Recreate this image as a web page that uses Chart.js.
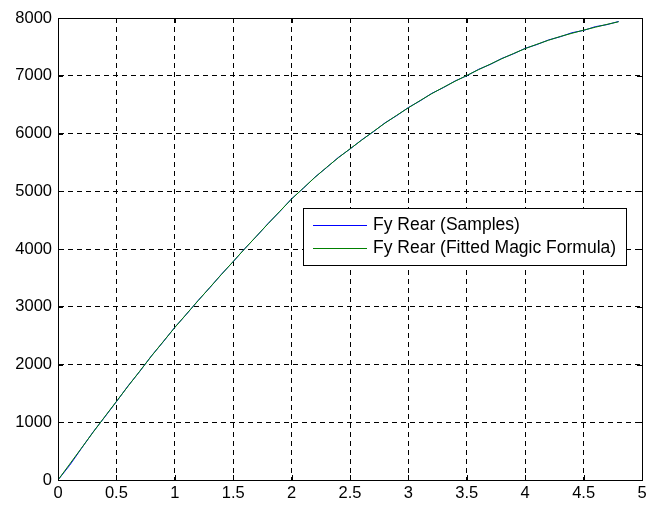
<!DOCTYPE html>
<html lang="en">
<head>
<meta charset="UTF-8">
<title>Fy Rear</title>
<style>
  html, body { margin: 0; padding: 0; background: #fff; }
  #wrap { width: 651px; height: 506px; }
</style>
</head>
<body>
<div id="wrap"><canvas id="fy-chart" width="651" height="506"></canvas></div>
<script src="https://cdn.jsdelivr.net/npm/chart.js"></script>
<script>
// slip values (x) and lateral force (y)
const slip = [0, 0.1, 0.2, 0.3, 0.4, 0.5, 0.6, 0.7, 0.8, 0.9, 1.0, 1.1, 1.2, 1.3, 1.4, 1.5, 1.6, 1.7, 1.8, 1.9, 2.0,
  2.1, 2.2, 2.3, 2.4, 2.5, 2.6, 2.7, 2.8, 2.9, 3.0, 3.1, 3.2, 3.3, 3.4, 3.5, 3.6, 3.7, 3.8, 3.9, 4.0,
  4.1, 4.2, 4.3, 4.4, 4.5, 4.6, 4.7, 4.8];
const fySamples = [0, 255, 545, 830, 1090, 1355, 1630, 1880, 2150, 2390, 2645, 2870, 3110, 3330, 3565, 3780, 4010, 4220, 4445, 4650, 4870,
  5050, 5245, 5410, 5585, 5730, 5890, 6030, 6185, 6310, 6450, 6565, 6695, 6795, 6910, 7000, 7110, 7195, 7300, 7380, 7475,
  7540, 7620, 7675, 7745, 7785, 7850, 7885, 7940];
const fyFitted = [0, 275, 550, 825, 1095, 1360, 1625, 1885, 2145, 2395, 2640, 2875, 3105, 3335, 3560, 3785, 4005, 4225, 4440, 4655, 4865,
  5055, 5240, 5415, 5580, 5735, 5885, 6035, 6180, 6315, 6445, 6570, 6690, 6800, 6905, 7005, 7105, 7200, 7295, 7385, 7470,
  7545, 7615, 7680, 7735, 7790, 7840, 7890, 7935];
const seriesNames = ['Fy Rear (Samples)', 'Fy Rear (Fitted Magic Formula)'];
const seriesColors = ['#0000ff', '#008000'];
const xTicks = [0, 0.5, 1, 1.5, 2, 2.5, 3, 3.5, 4, 4.5, 5];
const yTicks = [0, 1000, 2000, 3000, 4000, 5000, 6000, 7000, 8000];

const FONT = 'Liberation Sans, Arial, sans-serif';

function toPoints(ys) {
  return slip.map((x, i) => ({ x: x, y: ys[i] }));
}

// box, inner tick marks and legend, matlab style
const matlabBox = {
  id: 'matlabBox',
  afterDatasetsDraw(chart) {
    const ctx = chart.ctx;
    const a = chart.chartArea;
    const sx = chart.scales.x, sy = chart.scales.y;
    ctx.save();
    ctx.strokeStyle = '#000';
    ctx.lineWidth = 1;
    ctx.setLineDash([]);
    ctx.beginPath();
    xTicks.forEach(v => {
      const px = Math.round(sx.getPixelForValue(v)) + 0.5;
      ctx.moveTo(px, a.bottom); ctx.lineTo(px, a.bottom - 5);
      ctx.moveTo(px, a.top); ctx.lineTo(px, a.top + 5);
    });
    yTicks.forEach(v => {
      const py = Math.round(sy.getPixelForValue(v)) + 0.5;
      ctx.moveTo(a.left, py); ctx.lineTo(a.left + 5, py);
      ctx.moveTo(a.right, py); ctx.lineTo(a.right - 5, py);
    });
    ctx.stroke();
    ctx.strokeRect(Math.round(a.left) + 0.5, Math.round(a.top) + 0.5,
      Math.round(a.right - a.left), Math.round(a.bottom - a.top));

    // legend
    const lx = 303, ly = 208, lw = 323, lh = 57;
    ctx.fillStyle = '#fff';
    ctx.fillRect(lx, ly, lw, lh);
    ctx.strokeRect(lx + 0.5, ly + 0.5, lw, lh);
    ctx.font = '17.5px ' + FONT;
    ctx.textBaseline = 'middle';
    seriesNames.forEach((name, i) => {
      const y = ly + 17 + i * 23;
      ctx.strokeStyle = seriesColors[i];
      ctx.beginPath();
      ctx.moveTo(313, y + 0.5); ctx.lineTo(367, y + 0.5);
      ctx.stroke();
      ctx.fillStyle = '#000';
      ctx.fillText(name, 373, y);
    });
    ctx.restore();
  }
};

new Chart(document.getElementById('fy-chart'), {
  type: 'line',
  data: {
    datasets: [
      { label: seriesNames[0], data: toPoints(fySamples), borderColor: seriesColors[0], borderWidth: 1, pointRadius: 0, tension: 0, fill: false, order: 1 },
      { label: seriesNames[1], data: toPoints(fyFitted), borderColor: seriesColors[1], borderWidth: 1, pointRadius: 0, tension: 0, fill: false, order: 0 }
    ]
  },
  options: {
    responsive: false,
    animation: false,
    layout: { padding: { left: 0, right: 9, top: 18, bottom: 0 } },
    plugins: { legend: { display: false }, tooltip: { enabled: false } },
    scales: {
      x: {
        type: 'linear', min: 0, max: 5,
        afterBuildTicks: s => { s.ticks = xTicks.map(v => ({ value: v })); },
        afterFit: s => { s.height = 26; },
        ticks: { color: '#000', font: { family: FONT, size: 16.5 }, padding: 4, maxRotation: 0,
          callback: v => String(v) },
        grid: { color: '#000', lineWidth: 1, tickLength: 0, drawTicks: false },
        border: { display: true, color: '#000', dash: [5, 4] }
      },
      y: {
        type: 'linear', min: 0, max: 8000,
        afterBuildTicks: s => { s.ticks = yTicks.map(v => ({ value: v })); },
        afterFit: s => { s.width = 58; },
        ticks: { color: '#000', font: { family: FONT, size: 16.5 }, padding: 6,
          callback: v => String(v) },
        grid: { color: '#000', lineWidth: 1, tickLength: 0, drawTicks: false },
        border: { display: true, color: '#000', dash: [5, 4] }
      }
    }
  },
  plugins: [matlabBox]
});
</script>
</body>
</html>
